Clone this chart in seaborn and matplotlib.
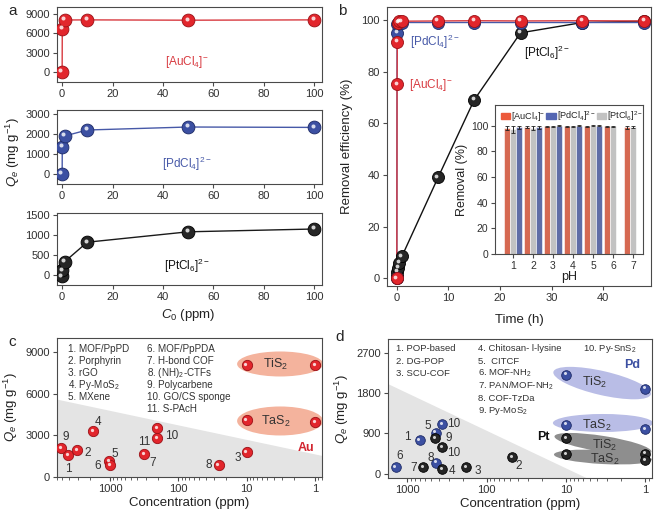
import matplotlib
matplotlib.use("Agg")
import matplotlib.pyplot as plt
import numpy as np
import pandas as pd
import seaborn as sns
from matplotlib.patches import Ellipse, Patch
from matplotlib.transforms import ScaledTranslation, offset_copy

# ---- panel a: uptake vs initial concentration
c0_ppm = [0.05, 0.1, 1, 10, 50, 100]
qe_au = [0, 6680, 8080, 8100, 8050, 8100]
qe_pd = [0, 1350, 1900, 2200, 2350, 2330]
qe_pt = [-30, 120, 330, 820, 1080, 1150]

# ---- panel b: removal kinetics
time_h = [0, 0.05, 0.1, 0.25, 0.5, 1, 8, 15, 24, 36, 48]
rem_au = [0, 75, 91.5, 99, 99.5, 99.5, 99.6, 99.7, 99.6, 99.7, 99.6]
rem_pd = [0, 95, 98.5, 99, 99, 99, 99, 99, 99, 99, 99]
rem_pt = [0, 1, 2.5, 4, 6, 8.5, 39, 69, 95, 99, 99.5]

# ---- panel b inset: removal vs pH
ph = ["1", "2", "3", "4", "5", "6", "7"]
ph_au = [98, 99, 99.5, 99.5, 99.5, 99.5, 98.5]
ph_au_err = [1.5, 1.0, 0.5, 0.3, 0.4, 0.4, 0.8]
ph_pt = [97, 98, 99.4, 99.5, 99.8, 99.3, 99]
ph_pt_err = [2.5, 1.8, 0.5, 0.4, 0.5, 0.5, 1.0]
ph_pd = [98.5, 98.5, 99.8, 99.8, 99.8, np.nan, np.nan]
ph_pd_err = [1.0, 1.0, 0.3, 0.3, 0.3, np.nan, np.nan]

# ---- panel c: Au literature comparison
c_ids = ["1", "2", "3", "4", "5", "6", "7", "8", "9", "10", "11"]
c_conc = [4100, 3030, 10, 1770, 1030, 1000, 320, 25.7, 5190, 206, 206]
c_qe = [1580, 1940, 1800, 3300, 1150, 860, 1650, 860, 2090, 3530, 2800]
c_names = ["1. MOF/PpPD", "2. Porphyrin", "3. rGO", "4. Py-MoS$_2$", "5. MXene",
           "6. MOF/PpPDA", "7. H-bond COF", "8. (NH)$_2$-CTFs", "9. Polycarbene",
           "10. GO/CS sponge", "11. S-PAcH"]
ours_conc = [10, 1]
c_tis2 = [8060, 8060]
c_tas2 = [4100, 3960]
c_shade_x = [6000, 0.79]
c_shade_y = [5600, 1550]

# ---- panel d: Pd / Pt literature comparison
d_pd_ids = ["6", "1", "5", "10", "8"]
d_pd_conc = [1400, 700, 440, 360, 430]
d_pd_qe = [160, 750, 920, 1100, 250]
d_pt_ids = ["9", "10", "7", "4", "3", "2"]
d_pt_conc = [450, 360, 630, 360, 180, 48]
d_pt_qe = [800, 600, 160, 110, 160, 380]
d_names = ["1. POP-based", "2. DG-POP", "3. SCU-COF", "4. Chitosan- l-lysine", "5.  CITCF",
           "6. MOF-NH$_2$", "7. PAN/MOF-NH$_2$", "8. COF-TzDa", "9. Py-MoS$_2$", "10. Py-SnS$_2$"]
d_pd_tis2 = [2210, 1900]
d_pd_tas2 = [1095, 1005]
d_pt_tis2 = [805, 450]
d_pt_tas2 = [447, 315]
d_shade_x = [1750, 5.5, 1750]
d_shade_y = [2000, -90, -90]

RED, RED_E = "#e2262c", "#9a1016"
BLUE, BLUE_E = "#3c50a2", "#1d2a66"
BLACK, BLACK_E = "#262626", "#000000"
AU_LABEL = "[AuCl$_4$]$^{-}$"
PD_LABEL = "[PdCl$_4$]$^{2-}$"
PT_LABEL = "[PtCl$_6$]$^{2-}$"

sns.set_theme(style="ticks")
plt.rcParams["font.family"] = ["Liberation Sans", "DejaVu Sans"]
plt.rcParams["mathtext.fontset"] = "custom"
plt.rcParams["mathtext.rm"] = "Liberation Sans"
plt.rcParams["mathtext.it"] = "Liberation Sans:italic"
plt.rcParams["mathtext.bf"] = "Liberation Sans:bold"
plt.rcParams["axes.unicode_minus"] = True

fig = plt.figure(figsize=(6.61, 5.15), dpi=100)


def frame(ax, labelsize=8):
    for side in ["left", "right", "top", "bottom"]:
        ax.spines[side].set_visible(True)
        ax.spines[side].set_color("#4a4a4a")
        ax.spines[side].set_linewidth(0.8)
    ax.tick_params(direction="out", length=3, width=0.8, labelsize=labelsize,
                   color="#4a4a4a", labelcolor="#303030", pad=2)
    ax.tick_params(which="minor", length=1.8, width=0.6, color="#4a4a4a")


def spheres(ax, x, y, color, edge, size, z=4):
    sns.scatterplot(x=x, y=y, ax=ax, s=size, color=color, edgecolor=edge,
                    linewidth=0.6, zorder=z, legend=False)
    r = 0.13 * np.sqrt(size)
    shine = offset_copy(ax.transData, fig=fig, x=-r, y=r, units="points")
    ax.scatter(x, y, s=size * 0.1, color="white", alpha=0.8, linewidth=0,
               zorder=z + 0.5, transform=shine)


def blob(ax, cx, cy, w, h, angle, color):
    trans = fig.dpi_scale_trans + ScaledTranslation(cx, cy, ax.transAxes)
    ax.add_patch(Ellipse((0, 0), w, h, angle=angle, transform=trans,
                         facecolor=color, edgecolor="none", zorder=2))


# ================= panel a =================
a_boxes = [[0.0862, 0.8408, 0.4009, 0.1456],
           [0.0862, 0.6427, 0.4009, 0.1437],
           [0.0862, 0.4466, 0.4009, 0.1398]]
a_series = [(qe_au, RED, RED_E, "#d83a40", AU_LABEL, (-1550, 10100), [0, 3000, 6000, 9000]),
            (qe_pd, BLUE, BLUE_E, "#4759a8", PD_LABEL, (-500, 3200), [0, 1000, 2000, 3000]),
            (qe_pt, BLACK, BLACK_E, "#1a1a1a", PT_LABEL, (-250, 1550), [0, 500, 1000, 1500])]
for box, (qe, col, edge, lcol, lab, ylim, yt) in zip(a_boxes, a_series):
    ax = fig.add_axes(box)
    sns.lineplot(x=c0_ppm, y=qe, ax=ax, color=lcol, linewidth=1.0,
                 estimator=None, sort=False, zorder=3)
    spheres(ax, c0_ppm, qe, col, edge, 85)
    ax.set_xlim(-2, 103)
    ax.set_ylim(*ylim)
    ax.set_xticks([0, 20, 40, 60, 80, 100])
    ax.set_yticks(yt)
    frame(ax)
    ax.text(0.49, 0.27, lab, transform=ax.transAxes, color=lcol if col != BLACK else "#111",
            fontsize=8.5, ha="center", va="center")
fig.text(0.02, 0.705, "$Q_e$ (mg g$^{-1}$)", rotation=90, ha="center", va="center",
         fontsize=9.5, color="#222")
fig.text(0.285, 0.388, "$C_0$ (ppm)", ha="center", va="center", fontsize=9.5, color="#222")
fig.text(0.012, 0.978, "a", fontsize=11, ha="left", va="center")

# ================= panel b =================
axb = fig.add_axes([0.5855, 0.4447, 0.3994, 0.5417])
sns.lineplot(x=time_h, y=rem_pt, ax=axb, color="#111111", linewidth=1.0,
             estimator=None, sort=False, zorder=3)
sns.lineplot(x=time_h, y=rem_pd, ax=axb, color="#4759a8", linewidth=1.0,
             estimator=None, sort=False, zorder=3)
sns.lineplot(x=time_h, y=rem_au, ax=axb, color="#d83a40", linewidth=1.0,
             estimator=None, sort=False, zorder=3)
spheres(axb, time_h, rem_pt, BLACK, BLACK_E, 75, z=4)
spheres(axb, time_h, rem_pd, BLUE, BLUE_E, 75, z=5)
spheres(axb, time_h, rem_au, RED, RED_E, 75, z=6)
axb.set_xlim(-1.9, 49.3)
axb.set_ylim(-3, 105)
axb.set_xticks([0, 10, 20, 30, 40])
axb.set_yticks([0, 20, 40, 60, 80, 100])
frame(axb)
axb.set_xlabel("Time (h)", fontsize=9.5, color="#222", labelpad=8)
axb.set_ylabel("Removal efficiency (%)", fontsize=9.5, color="#222", labelpad=6)
axb.text(0.087, 0.875, PD_LABEL, transform=axb.transAxes, color="#4759a8", fontsize=8.5, va="center")
axb.text(0.083, 0.72, AU_LABEL, transform=axb.transAxes, color="#d83a40", fontsize=8.5, va="center")
axb.text(0.52, 0.835, PT_LABEL, transform=axb.transAxes, color="#111", fontsize=8.5, va="center")
fig.text(0.512, 0.978, "b", fontsize=11, ha="left", va="center")

# inset
axi = fig.add_axes([0.7489, 0.5068, 0.2239, 0.2893])
ph_df = pd.DataFrame({
    "pH": ph * 3,
    "removal": ph_au + ph_pt + ph_pd,
    "err": ph_au_err + ph_pt_err + ph_pd_err,
    "ion": ["Au"] * 7 + ["Pt"] * 7 + ["Pd"] * 7,
}).dropna()
ion_order = ["Au", "Pt", "Pd"]
ion_colors = {"Au": "#ec5a3c", "Pt": "#c2c2c2", "Pd": "#5466b2"}
sns.barplot(data=ph_df, x="pH", y="removal", hue="ion", hue_order=ion_order,
            order=ph, palette=ion_colors, errorbar=None, width=0.88, ax=axi,
            edgecolor="white", linewidth=0.4, legend=False)
for cont, ion in zip(axi.containers, ion_order):
    part = ph_df[ph_df.ion == ion]
    xs = [b.get_x() + b.get_width() / 2 for b in cont]
    hs = [b.get_height() for b in cont]
    axi.errorbar(xs, hs, yerr=part["err"].to_numpy(), fmt="none", ecolor="#222",
                 elinewidth=0.7, capsize=1.2, capthick=0.6, zorder=5)
axi.set_xlim(-0.9, 6.5)
axi.set_ylim(0, 116)
axi.set_yticks([0, 20, 40, 60, 80, 100])
frame(axi, labelsize=7.5)
axi.set_xlabel("pH", fontsize=9, color="#222", labelpad=0)
axi.set_ylabel("Removal (%)", fontsize=9, color="#222", labelpad=2)
handles = [Patch(color=ion_colors["Au"]), Patch(color=ion_colors["Pd"]), Patch(color=ion_colors["Pt"])]
axi.legend(handles, [AU_LABEL, PD_LABEL, PT_LABEL], loc="center", bbox_to_anchor=(0.52, 0.925),
           ncol=3, frameon=False, fontsize=6.6, handlelength=1.0, handleheight=0.6,
           handletextpad=0.1, columnspacing=0.15, borderpad=0, borderaxespad=0)

# ================= panel c =================
axc = fig.add_axes([0.0862, 0.0738, 0.4009, 0.2699])
axc.set_xscale("log")
axc.fill_between(c_shade_x, c_shade_y, 0, color="#e4e4e4", linewidth=0, zorder=1)
blob(axc, 0.842, 0.813, 0.86, 0.25, 0, "#f4b39d")
blob(axc, 0.842, 0.403, 0.86, 0.29, 0, "#f4b39d")
spheres(axc, c_conc, c_qe, RED, RED_E, 55)
spheres(axc, ours_conc, c_tis2, RED, RED_E, 55)
spheres(axc, ours_conc, c_tas2, RED, RED_E, 55)
c_offsets = {"1": (0, -14), "2": (10, -3), "3": (-9, -6), "4": (5, 9), "5": (6, 7),
             "6": (-12, -1), "7": (9, -9), "8": (-10, 0), "9": (4, 11), "10": (15, -8),
             "11": (-13, -4)}
for cid, xv, yv in zip(c_ids, c_conc, c_qe):
    axc.annotate(cid, (xv, yv), xytext=c_offsets[cid], textcoords="offset pixels",
                 ha="center", va="center", fontsize=8.5, color="#333", zorder=6)
axc.text(0.825, 0.813, "TiS$_2$", transform=axc.transAxes, ha="center", va="center", fontsize=9, color="#333", zorder=3)
axc.text(0.825, 0.403, "TaS$_2$", transform=axc.transAxes, ha="center", va="center", fontsize=9, color="#333", zorder=3)
axc.text(0.94, 0.21, "Au", transform=axc.transAxes, ha="center", va="center", fontsize=9,
         fontweight="bold", color="#d22630")
for i, name in enumerate(c_names):
    col_x = 0.042 if i < 5 else 0.34
    row = i if i < 5 else i - 5
    axc.text(col_x, 0.921 - row * 0.0863, name, transform=axc.transAxes, fontsize=7.1,
             va="center", ha="left", color="#333", zorder=6)
axc.set_xlim(6000, 0.79)
axc.set_ylim(0, 10000)
axc.set_xticks([1000, 100, 10, 1])
axc.set_xticklabels(["1000", "100", "10", "1"])
axc.set_yticks([0, 3000, 6000, 9000])
frame(axc)
axc.set_xlabel("Concentration (ppm)", fontsize=9.5, color="#222", labelpad=2)
axc.set_ylabel("$Q_e$ (mg g$^{-1}$)", fontsize=9.5, color="#222", labelpad=4)
fig.text(0.012, 0.335, "c", fontsize=11, ha="left", va="center")

# ================= panel d =================
axd = fig.add_axes([0.587, 0.0718, 0.3994, 0.2699])
axd.set_xscale("log")
axd.fill(d_shade_x, d_shade_y, color="#e4e4e4", linewidth=0, zorder=1)
blob(axd, 0.811, 0.683, 1.0, 0.24, -13, "#b9bde6")
blob(axd, 0.814, 0.396, 1.0, 0.18, 0, "#b9bde6")
blob(axd, 0.814, 0.245, 0.98, 0.16, -9, "#8e8e8e")
blob(axd, 0.814, 0.151, 0.98, 0.14, -3, "#8e8e8e")
spheres(axd, d_pd_conc, d_pd_qe, BLUE, BLUE_E, 48)
spheres(axd, d_pt_conc, d_pt_qe, BLACK, BLACK_E, 48)
spheres(axd, ours_conc, d_pd_tis2, BLUE, BLUE_E, 48)
spheres(axd, ours_conc, d_pd_tas2, BLUE, BLUE_E, 48)
spheres(axd, ours_conc, d_pt_tis2, BLACK, BLACK_E, 48)
spheres(axd, ours_conc, d_pt_tas2, BLACK, BLACK_E, 48)
pd_offsets = {"6": (4, 11), "1": (-12, 3), "5": (-8, 7), "10": (11, 0), "8": (-6, 5)}
pt_offsets = {"9": (14, 0), "10": (11, -6), "7": (-10, -1), "4": (10, -2), "3": (11, -4), "2": (7, -9)}
for ids, xs, ys, offs in [(d_pd_ids, d_pd_conc, d_pd_qe, pd_offsets),
                          (d_pt_ids, d_pt_conc, d_pt_qe, pt_offsets)]:
    for cid, xv, yv in zip(ids, xs, ys):
        axd.annotate(cid, (xv, yv), xytext=offs[cid], textcoords="offset pixels",
                     ha="center", va="center", fontsize=8.5, color="#333", zorder=6)
axd.text(0.784, 0.69, "TiS$_2$", transform=axd.transAxes, ha="center", va="center", fontsize=9, color="#333", zorder=3)
axd.text(0.79, 0.38, "TaS$_2$", transform=axd.transAxes, ha="center", va="center", fontsize=9, color="#333", zorder=3)
axd.text(0.82, 0.237, "TiS$_2$", transform=axd.transAxes, ha="center", va="center", fontsize=9, color="#333", zorder=3)
axd.text(0.82, 0.137, "TaS$_2$", transform=axd.transAxes, ha="center", va="center", fontsize=9, color="#333", zorder=3)
axd.text(0.924, 0.813, "Pd", transform=axd.transAxes, ha="center", va="center", fontsize=9,
         fontweight="bold", color=BLUE)
axd.text(0.587, 0.295, "Pt", transform=axd.transAxes, ha="center", va="center", fontsize=9,
         fontweight="bold", color="#111")
for i, name in enumerate(d_names):
    if i < 3:
        col_x, row = 0.03, i
    elif i < 9:
        col_x, row = 0.34, i - 3
    else:
        col_x, row = 0.74, 0
    axd.text(col_x, 0.93 - row * 0.089, name, transform=axd.transAxes, fontsize=6.8,
             va="center", ha="left", color="#333", zorder=6)
axd.set_xlim(1750, 0.82)
axd.set_ylim(-90, 3000)
axd.set_xticks([1000, 100, 10, 1])
axd.set_xticklabels(["1000", "100", "10", "1"])
axd.set_yticks([0, 900, 1800, 2700])
frame(axd)
axd.set_xlabel("Concentration (ppm)", fontsize=9.5, color="#222", labelpad=2)
axd.set_ylabel("$Q_e$ (mg g$^{-1}$)", fontsize=9.5, color="#222", labelpad=4)
fig.text(0.507, 0.345, "d", fontsize=11, ha="left", va="center")

fig.savefig("out.png", dpi=100)
plt.close(fig)
